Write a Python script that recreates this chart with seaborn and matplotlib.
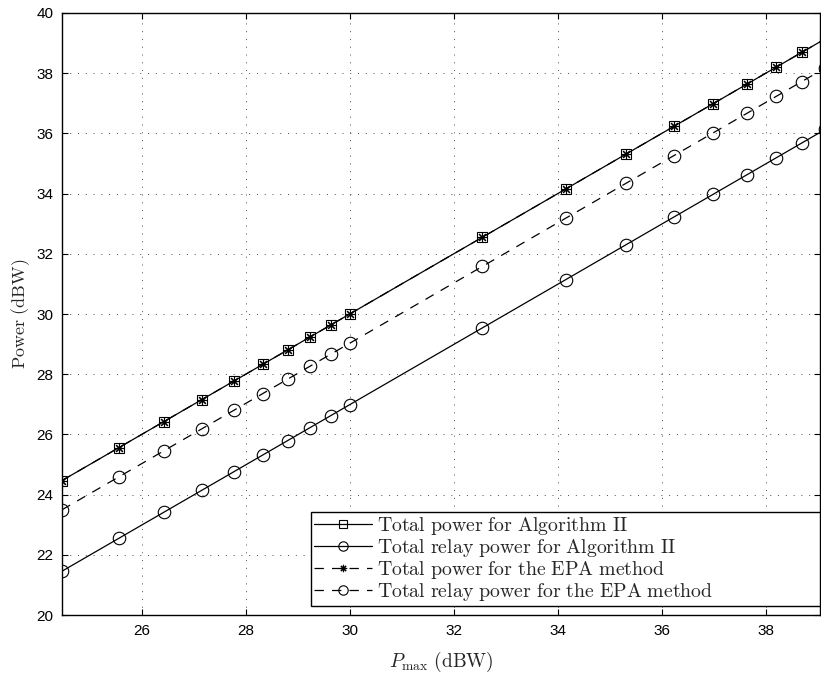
import matplotlib
matplotlib.use('Agg')
import seaborn as sns
import matplotlib.pyplot as plt
import pandas as pd

# Data
p_max = [24.47, 25.56, 26.43, 27.16, 27.78, 28.33, 28.81, 29.24, 29.64, 30.00,
         32.55, 34.15, 35.31, 36.23, 36.99, 37.63, 38.20, 38.69, 39.14]
total_alg2 = [24.47, 25.56, 26.43, 27.16, 27.78, 28.33, 28.81, 29.24, 29.64, 30.00,
              32.55, 34.15, 35.31, 36.23, 36.99, 37.63, 38.20, 38.69, 39.14]
relay_alg2 = [21.46, 22.55, 23.42, 24.15, 24.77, 25.32, 25.80, 26.23, 26.63, 26.99,
              29.54, 31.14, 32.30, 33.22, 33.98, 34.62, 35.19, 35.68, 36.13]
total_epa = [24.47, 25.56, 26.43, 27.16, 27.78, 28.33, 28.81, 29.24, 29.64, 30.00,
             32.55, 34.15, 35.31, 36.23, 36.99, 37.63, 38.20, 38.69, 39.14]
relay_epa = [23.50, 24.59, 25.46, 26.19, 26.81, 27.36, 27.84, 28.27, 28.67, 29.03,
             31.58, 33.18, 34.34, 35.26, 36.02, 36.66, 37.23, 37.72, 38.17]

labels = [r'$\mathrm{Total\ power\ for\ Algorithm\ II}$',
          r'$\mathrm{Total\ relay\ power\ for\ Algorithm\ II}$',
          r'$\mathrm{Total\ power\ for\ the\ EPA\ method}$',
          r'$\mathrm{Total\ relay\ power\ for\ the\ EPA\ method}$']
x_ticks = [26, 28, 30, 32, 34, 36, 38]
y_ticks = [20, 22, 24, 26, 28, 30, 32, 34, 36, 38, 40]

sns.set_theme(style='white')
plt.rcParams['font.family'] = ['Liberation Sans', 'DejaVu Sans']
plt.rcParams['mathtext.fontset'] = 'cm'

df = pd.DataFrame({'x': p_max, 't2': total_alg2, 'r2': relay_alg2,
                   'te': total_epa, 're': relay_epa})

fig = plt.figure(figsize=(8.21, 6.79), dpi=100)
ax = fig.add_axes([0.0755, 0.094, 0.9233, 0.887])

dash = (0, (7.5, 6.5))
common = dict(color='black', linewidth=0.9, markersize=7, markeredgewidth=0.8,
              markerfacecolor='none', markeredgecolor='black', sort=False,
              estimator=None, ax=ax)
sns.lineplot(data=df, x='x', y='t2', marker='s', linestyle='-', label=labels[0], **common)
sns.lineplot(data=df, x='x', y='r2', marker='o', linestyle='-', label=labels[1],
             **{**common, 'markersize': 9})
sns.lineplot(data=df, x='x', y='te', marker=(8, 2, 0), linestyle=dash,
             label=labels[2], **common)
sns.lineplot(data=df, x='x', y='re', marker='o', linestyle=dash, label=labels[3],
             **{**common, 'markersize': 9})

ax.set_xlim(24.47, 39.04)
ax.set_ylim(20, 40)
ax.set_xticks(x_ticks)
ax.set_yticks(y_ticks)
ax.tick_params(direction='in', length=4, width=0.8, labelsize=11, colors='black',
               top=True, right=True, bottom=True, left=True, pad=6)
ax.grid(True, linestyle=(0, (1, 7)), color='black', linewidth=0.7, alpha=0.7)
for s in ax.spines.values():
    s.set_color('black')
    s.set_linewidth(1.0)
    s.set_visible(True)

ax.set_xlabel(r'$P_{\mathrm{max}}\ \mathrm{(dBW)}$', fontsize=14, labelpad=9)
ax.set_ylabel(r'$\mathrm{Power\ (dBW)}$', fontsize=13, labelpad=3)

leg = ax.legend(loc='lower left', bbox_to_anchor=(0.3285, 0.015, 0.6715, 0.1),
                mode='expand', borderaxespad=0,
                fontsize=14.3, frameon=True, fancybox=False, framealpha=1,
                edgecolor='black', handlelength=2.9, labelspacing=0.0,
                handletextpad=0.25, borderpad=0.15, markerscale=0.75)
leg.get_frame().set_linewidth(1.0)

fig.savefig('out.png', dpi=100)
